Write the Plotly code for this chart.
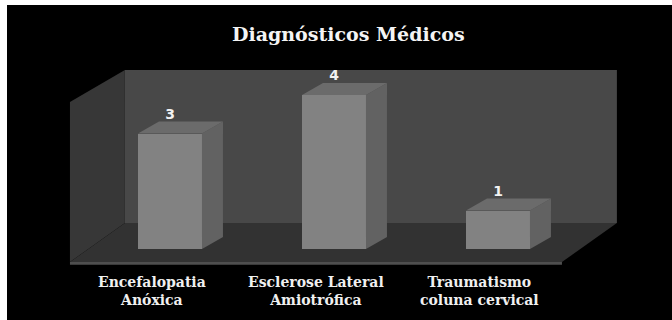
import plotly.graph_objects as go

# ---- data ----
categories = ["Encefalopatia<br>Anóxica",
              "Esclerose Lateral<br>Amiotrófica",
              "Traumatismo<br>coluna cervical"]
values = [3, 4, 1]
chart_title = "Diagnósticos Médicos"

# ---- pseudo-3D geometry (data units) ----
BAR_W = 0.39                 # width of each bar's front face
BAR_DX, BAR_DY = 0.128, 0.31  # depth offset of a bar box
WALL_DX, WALL_DY = 0.335, 1.013  # depth of the floor / side wall
FLOOR_FRONT = -0.338         # front edge of the floor
FLOOR_THICK = 0.07
WALL_TOP = 4.65              # top of the back wall
SIDE_FRONT_TOP = 3.82        # front top corner of the left wall
X_LEFT, X_RIGHT = -0.61, 2.39  # floor front corners

X_RANGE = [-0.9939, 3.0610]
Y_RANGE = [-1.844, 6.338]

C_FRONT = "#828282"
C_SIDE = "#626262"
C_TOP = "#6b6b6b"
C_BACK = "#484848"
C_LEFT = "#373737"
C_FLOOR = "#323232"
C_FLOOR_EDGE = "#4e4e4e"

xs = list(range(len(values)))


def poly(pts):
    return "M " + " L ".join(f"{x},{y}" for x, y in pts) + " Z"


bx0, by0 = X_LEFT + WALL_DX, FLOOR_FRONT + WALL_DY
bx1 = X_RIGHT + WALL_DX

shapes = [
    # back wall
    dict(type="path", path=poly([(bx0, by0), (bx0, WALL_TOP), (bx1, WALL_TOP), (bx1, by0)]),
         fillcolor=C_BACK, line=dict(width=0), layer="below"),
    # left wall
    dict(type="path", path=poly([(X_LEFT, FLOOR_FRONT), (X_LEFT, SIDE_FRONT_TOP),
                                 (bx0, WALL_TOP), (bx0, by0)]),
         fillcolor=C_LEFT, line=dict(width=0), layer="below"),
    # floor
    dict(type="path", path=poly([(X_LEFT, FLOOR_FRONT), (bx0, by0), (bx1, by0), (X_RIGHT, FLOOR_FRONT)]),
         fillcolor=C_FLOOR, line=dict(width=0), layer="below"),
    # floor front edge
    dict(type="path", path=poly([(X_LEFT, FLOOR_FRONT), (X_RIGHT, FLOOR_FRONT),
                                 (X_RIGHT, FLOOR_FRONT - FLOOR_THICK), (X_LEFT, FLOOR_FRONT - FLOOR_THICK)]),
         fillcolor=C_FLOOR_EDGE, line=dict(width=0), layer="below"),
]

fig = go.Figure()

# front faces of the bars
fig.add_trace(go.Bar(x=xs, y=values, width=BAR_W, marker=dict(color=C_FRONT, line=dict(width=0)),
                     hoverinfo="skip", showlegend=False))

# side and top faces of each bar
for x, v in zip(xs, values):
    xl, xr = x - BAR_W / 2, x + BAR_W / 2
    side_x = [xr, xr + BAR_DX, xr + BAR_DX, xr, xr]
    side_y = [0, BAR_DY, v + BAR_DY, v, 0]
    fig.add_trace(go.Scatter(x=side_x, y=side_y, fill="toself", fillcolor=C_SIDE, mode="lines",
                             line=dict(width=0), hoverinfo="skip", showlegend=False))
    top_x = [xl, xl + BAR_DX, xr + BAR_DX, xr, xl]
    top_y = [v, v + BAR_DY, v + BAR_DY, v, v]
    fig.add_trace(go.Scatter(x=top_x, y=top_y, fill="toself", fillcolor=C_TOP, mode="lines",
                             line=dict(width=0), hoverinfo="skip", showlegend=False))

# value labels
fig.add_trace(go.Scatter(x=xs, y=[v + BAR_DY + 0.17 for v in values], mode="text",
                         text=[str(v) for v in values],
                         textfont=dict(family="DejaVu Sans", size=14, color="#f2f2f2", weight="bold"),
                         hoverinfo="skip", showlegend=False))

annotations = [
    dict(x=x - 0.11, y=-1.09, xref="x", yref="y", text=c, showarrow=False,
         xanchor="center", yanchor="middle",
         font=dict(family="DejaVu Serif", size=14, color="#f0f0f0", weight="bold"))
    for x, c in zip(xs, categories)
]
annotations.append(dict(x=345 / 672, y=1 - 29 / 320, xref="paper", yref="paper", text=chart_title,
                        showarrow=False, xanchor="center", yanchor="middle",
                        font=dict(family="DejaVu Serif", size=19, color="#f4f4f4", weight="bold")))

fig.update_layout(
    width=672, height=320,
    margin=dict(l=7, r=0, t=5, b=0),
    paper_bgcolor="white", plot_bgcolor="black",
    shapes=shapes, annotations=annotations,
    xaxis=dict(range=X_RANGE, visible=False, fixedrange=True),
    yaxis=dict(range=Y_RANGE, visible=False, fixedrange=True),
    bargap=0,
)

fig.write_html("out.html", config={"displayModeBar": False})
